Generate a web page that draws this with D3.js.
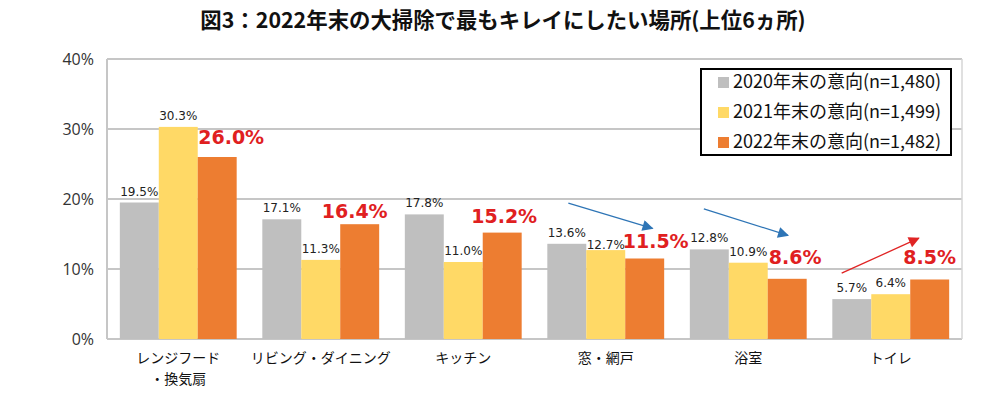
<!DOCTYPE html>
<html>
<head>
<meta charset="utf-8">
<script src="https://cdn.jsdelivr.net/npm/d3@7"></script>
<style>
  body { margin: 0; background: #fff; }
  svg { display: block; }
</style>
</head>
<body>
<svg></svg>
<script>
let width = 1004;
let height = 393;

// data
const categories = ["レンジフード\n・換気扇", "リビング・ダイニング", "キッチン", "窓・網戸", "浴室", "トイレ"];
const seriesNames = ["2020年末の意向(n=1,480)", "2021年末の意向(n=1,499)", "2022年末の意向(n=1,482)"];
const values2020 = [19.5, 17.1, 17.8, 13.6, 12.8, 5.7];
const values2021 = [30.3, 11.3, 11.0, 12.7, 10.9, 6.4];
const values2022 = [26.0, 16.4, 15.2, 11.5, 8.6, 8.5];
const yTicks = [0, 10, 20, 30, 40];
// arrows: [category, fraction in group, value] -> [category, fraction, value]
const arrows = [
  { from: [3, 0.18, 19.4], to: [3, 0.90, 15.8], color: "#2e75b6" },
  { from: [4, 0.12, 18.6], to: [4, 0.84, 14.8], color: "#2e75b6" },
  { from: [5, 0.08, 9.4], to: [5, 0.74, 14.4], color: "#e02424" }
];

const colors = ["#bfbfbf", "#ffd966", "#ed7d31"];
// hand placed offsets of the big 2022 labels (dx, dy)
const bigLabelOffset = [[14, -13], [-5, -6], [2, -10], [11, -11], [8, -15], [0, -16]];

let plotLeft = 107, plotRight = 962, plotTop = 59, plotBottom = 339;

let svg = d3.select("svg").attr("width", width).attr("height", height);

// title
svg.append("text")
  .attr("x", 503).attr("y", 28)
  .attr("text-anchor", "middle")
  .style("font-family", "'Noto Sans CJK JP'")
  .style("font-weight", "bold")
  .style("font-size", "21.4px")
  .attr("fill", "#111")
  .text("図3：2022年末の大掃除で最もキレイにしたい場所(上位6ヵ所)");

let xScale = d3.scaleBand().domain(d3.range(categories.length))
  .range([plotLeft, plotRight]).paddingInner(0.18).paddingOuter(0.09);
let xSub = d3.scaleBand().domain(d3.range(3)).range([0, xScale.bandwidth()]);
let yScale = d3.scaleLinear().domain([0, 40]).range([plotBottom, plotTop]);

// gridlines
svg.append("g").selectAll("line").data(yTicks).join("line")
  .attr("x1", plotLeft).attr("x2", plotRight)
  .attr("y1", d => yScale(d)).attr("y2", d => yScale(d))
  .attr("stroke", "#c6c6c6").attr("stroke-width", 2);
// sides of the plot area
svg.append("line").attr("x1", plotLeft).attr("x2", plotLeft).attr("y1", plotTop).attr("y2", plotBottom)
  .attr("stroke", "#c6c6c6").attr("stroke-width", 2);
svg.append("line").attr("x1", plotRight).attr("x2", plotRight).attr("y1", plotTop).attr("y2", plotBottom)
  .attr("stroke", "#d6d6d6").attr("stroke-width", 1.5);

// y axis labels
svg.append("g").selectAll("text").data(yTicks).join("text")
  .attr("x", 94).attr("y", d => yScale(d) + 6)
  .attr("text-anchor", "end")
  .style("font-family", "'Open Sans'")
  .style("font-size", "16px")
  .attr("fill", "#333")
  .text(d => d + "%");

// bars
let allSeries = [values2020, values2021, values2022];
allSeries.forEach((vals, s) => {
  svg.append("g").selectAll("rect").data(vals).join("rect")
    .attr("x", (d, i) => xScale(i) + xSub(s))
    .attr("y", d => yScale(d))
    .attr("width", xSub.bandwidth())
    .attr("height", d => plotBottom - yScale(d))
    .attr("fill", colors[s]);
});

// small labels for 2020 and 2021
[values2020, values2021].forEach((vals, s) => {
  svg.append("g").selectAll("text").data(vals).join("text")
    .attr("x", (d, i) => xScale(i) + xSub(s) + xSub.bandwidth() / 2)
    .attr("y", (d, i) => yScale(d) - (s == 1 && i == 3 ? 1 : 7))
    .attr("text-anchor", "middle")
    .style("font-family", "'DejaVu Sans'")
    .style("font-size", "12px")
    .attr("fill", "#222")
    .text(d => d.toFixed(1) + "%");
});

// big red labels for 2022
svg.append("g").selectAll("text").data(values2022).join("text")
  .attr("x", (d, i) => xScale(i) + xSub(2) + xSub.bandwidth() / 2 + bigLabelOffset[i][0])
  .attr("y", (d, i) => yScale(d) + bigLabelOffset[i][1])
  .attr("text-anchor", "middle")
  .style("font-family", "'DejaVu Sans'")
  .style("font-weight", "bold")
  .style("font-size", "19px")
  .attr("fill", "#e0201f")
  .text(d => d.toFixed(1) + "%");

// category labels
let catG = svg.append("g").selectAll("text").data(categories).join("text")
  .attr("x", (d, i) => xScale(i) + xScale.bandwidth() / 2)
  .attr("y", 363)
  .attr("text-anchor", "middle")
  .style("font-family", "'Noto Sans CJK JP'")
  .style("font-size", "14px")
  .attr("fill", "#111");
catG.each(function(d) {
  let lines = d.split("\n");
  d3.select(this).selectAll("tspan").data(lines).join("tspan")
    .attr("x", d3.select(this).attr("x"))
    .attr("dy", (l, j) => j == 0 ? 0 : 21)
    .text(l => l);
});

// arrows
let defs = svg.append("defs");
arrows.forEach((a, k) => {
  defs.append("marker").attr("id", "head" + k)
    .attr("viewBox", "0 0 10 10").attr("refX", 9).attr("refY", 5)
    .attr("markerWidth", 14).attr("markerHeight", 11)
    .attr("markerUnits", "userSpaceOnUse")
    .attr("orient", "auto")
    .append("path").attr("d", "M0,0 L10,5 L0,10 Z").attr("fill", a.color);
  let px = p => xScale(p[0]) + p[1] * xScale.bandwidth();
  svg.append("line")
    .attr("x1", px(a.from)).attr("y1", yScale(a.from[2]))
    .attr("x2", px(a.to)).attr("y2", yScale(a.to[2]))
    .attr("stroke", a.color).attr("stroke-width", 1.3)
    .attr("marker-end", "url(#head" + k + ")");
});

// legend
let legend = svg.append("g");
legend.append("rect")
  .attr("x", 701).attr("y", 69).attr("width", 250).attr("height", 86)
  .attr("fill", "#fff").attr("stroke", "#000").attr("stroke-width", 2);
seriesNames.forEach((name, s) => {
  let yy = 82 + s * 30;
  legend.append("rect").attr("x", 718).attr("y", yy - 5).attr("width", 11).attr("height", 11)
    .attr("fill", colors[s]);
  legend.append("text").attr("x", 733).attr("y", yy + 6)
    .style("font-family", "'Noto Sans CJK JP'")
    .style("font-size", "18px")
    .attr("fill", "#111")
    .text(name);
});
</script>
</body>
</html>
